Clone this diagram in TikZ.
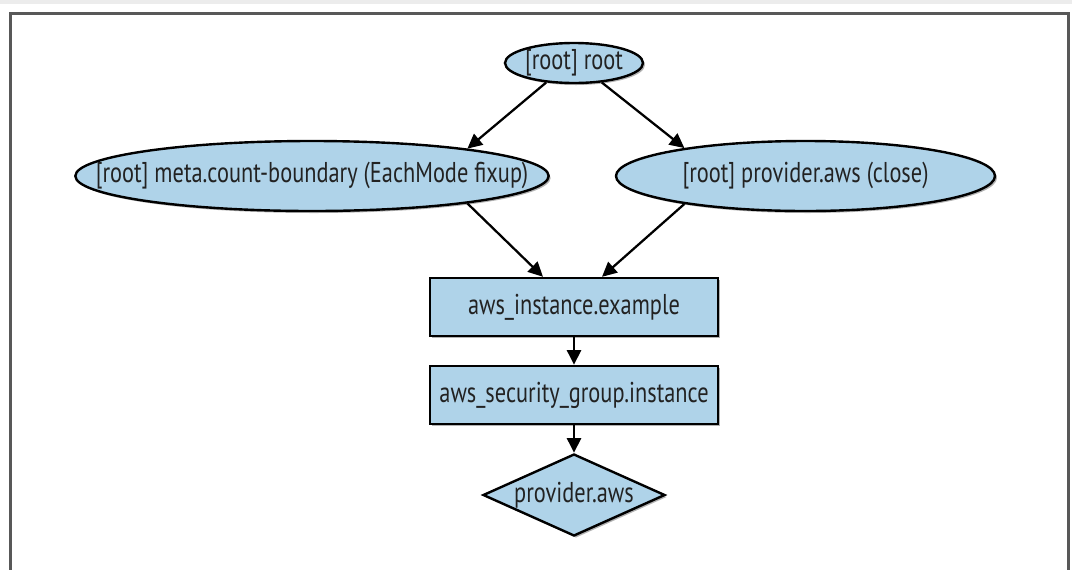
\documentclass[tikz,border=0pt]{standalone}
\usepackage{fontspec}
\setmainfont{PT Sans}[FakeStretch=0.78]
\usetikzlibrary{shapes.geometric,arrows.meta,shadows,calc}
\definecolor{nodeblue}{RGB}{175,211,233}
\definecolor{framegray}{RGB}{88,88,88}
\definecolor{stripgray}{RGB}{236,236,236}
\definecolor{txt}{RGB}{34,34,34}
\begin{document}
\begin{tikzpicture}[x=0.75pt,y=-0.75pt,
  base/.style={draw=black,line width=1.8pt,fill=nodeblue,text=txt,inner sep=0pt,
    font=\fontsize{21.5pt}{25pt}\selectfont,
    drop shadow={shadow xshift=1.5pt,shadow yshift=-1.5pt,opacity=0.3,fill=black}},
  ell/.style={base,ellipse},
  box/.style={base,rectangle,minimum width=216pt,minimum height=43.5pt},
  dia/.style={base,diamond,minimum width=136.5pt,minimum height=61.5pt},
  conn/.style={line width=1.7pt,-{Triangle[length=11pt,width=10.5pt]}}]
\useasboundingbox (0,0) rectangle (1072,569);
\fill[white] (0,0) rectangle (1072,569);
\fill[stripgray] (0,0) rectangle (1072,4);
\draw[framegray,line width=2.25pt] (10.5,575) -- (10.5,13.5) -- (1068,13.5) -- (1068,575);
\node[ell,minimum width=103.5pt,minimum height=30pt] (root) at (574,63) {\makebox[0pt]{[root] root}};
\node[ell,minimum width=355pt,minimum height=52.5pt] (left) at (312,176) {\makebox[0pt]{[root] meta.count-boundary (EachMode fixup)}};
\node[ell,minimum width=284.25pt,minimum height=52.5pt] (right) at (805.5,176) {\makebox[0pt]{[root] provider.aws (close)}};
\node[box] (r1) at (574,307) {aws\_instance.example};
\node[box] (r2) at (574,395) {aws\_security\_group.instance};
\node[dia] (pa) at (574,495) {\makebox[0pt]{provider.aws}};
\draw[conn] (root.215) -- (left.10);
\draw[conn] (root.325) -- (right.167);
\draw[conn] (left.350) -- ($(r1.north)+(-31,0)$);
\draw[conn] (right.193) -- ($(r1.north)+(28,0)$);
\draw[conn] (r1.south) -- (r2.north);
\draw[conn] (r2.south) -- (pa.north);
\end{tikzpicture}
\end{document}
